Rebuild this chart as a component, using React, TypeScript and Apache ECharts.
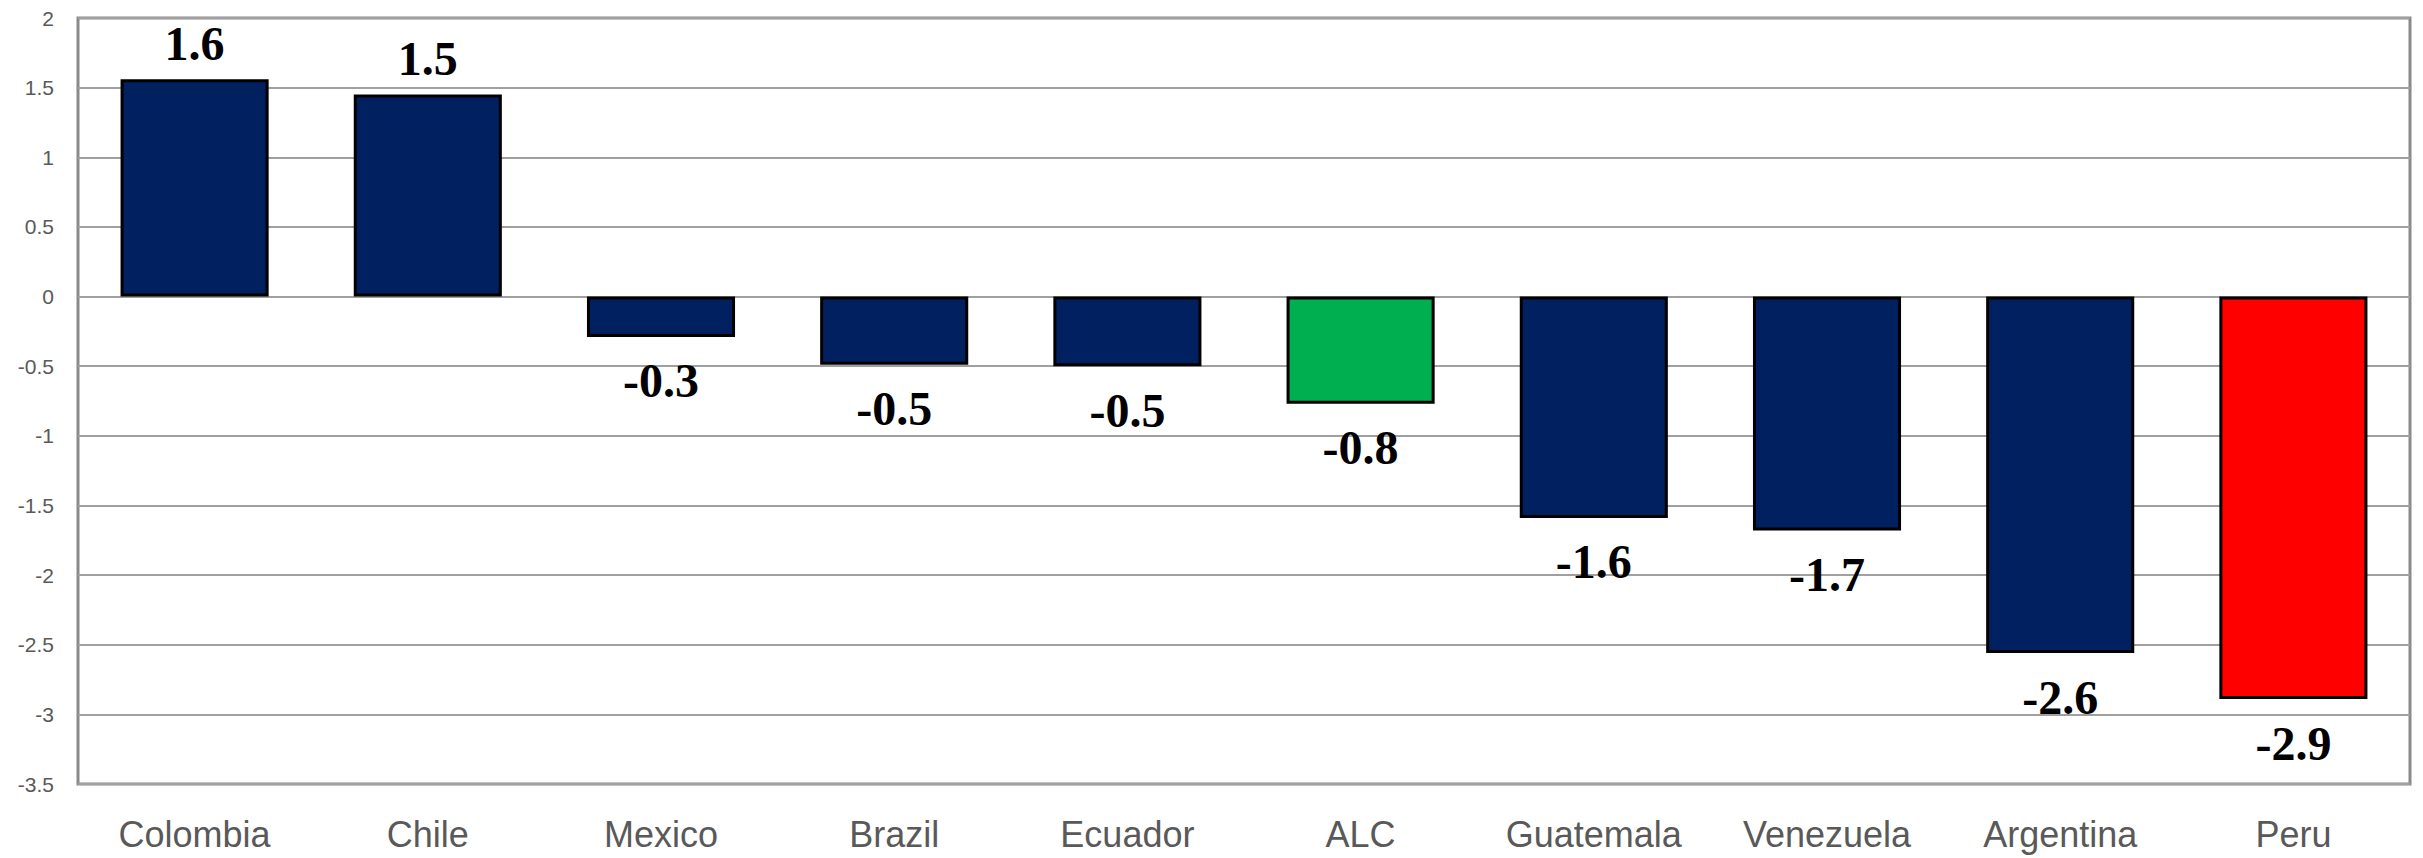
import React, { useEffect, useRef } from "react";
import * as echarts from "echarts";

const categories = ["Colombia", "Chile", "Mexico", "Brazil", "Ecuador", "ALC", "Guatemala", "Venezuela", "Argentina", "Peru"];
const values = [1.56, 1.45, -0.29, -0.49, -0.5, -0.77, -1.59, -1.68, -2.56, -2.89];
const labels = ["1.6", "1.5", "-0.3", "-0.5", "-0.5", "-0.8", "-1.6", "-1.7", "-2.6", "-2.9"];
const colors = ["#002060", "#002060", "#002060", "#002060", "#002060", "#00B050", "#002060", "#002060", "#002060", "#FF0000"];

export default function App() {
  const ref = useRef<HTMLDivElement>(null);
  useEffect(() => {
    if (!ref.current) return;
    const chart = echarts.init(ref.current, null, { renderer: "svg" });
    chart.setOption({
      animation: false,
      backgroundColor: "#ffffff",
      grid: {
        left: 78,
        right: 13,
        top: 18,
        bottom: 74,
        show: true,
        borderColor: "#8a8a8a",
        borderWidth: 3,
        backgroundColor: "transparent",
      },
      xAxis: {
        type: "category",
        data: categories,
        axisLine: { show: false },
        axisTick: { show: false },
        axisLabel: {
          color: "#595959",
          fontFamily: "Liberation Sans, Arial, sans-serif",
          fontSize: 36,
          margin: 32,
          interval: 0,
        },
      },
      yAxis: {
        type: "value",
        min: -3.5,
        max: 2,
        interval: 0.5,
        axisLine: { show: false },
        axisTick: { show: false },
        splitLine: { lineStyle: { color: "#a0a0a0", width: 2 } },
        axisLabel: {
          color: "#595959",
          fontFamily: "Liberation Sans, Arial, sans-serif",
          fontSize: 21,
          margin: 24,
        },
      },
      series: [
        {
          type: "bar",
          barWidth: "63.5%",
          data: values.map((v, i) => ({
            value: v,
            itemStyle: { color: colors[i], borderColor: "#000000", borderWidth: 3 },
            label: {
              show: true,
              position: v >= 0 ? "top" : "bottom",
              distance: v >= 0 ? 12 : 20,
              formatter: () => labels[i],
              color: "#000000",
              fontFamily: "Liberation Serif, Times New Roman, serif",
              fontWeight: "bold",
              fontSize: 48,
            },
          })),
        },
      ],
    });
    return () => chart.dispose();
  }, []);
  return <div ref={ref} style={{ position: "fixed", left: 0, top: 0, width: 2423, height: 858 }} />;
}
